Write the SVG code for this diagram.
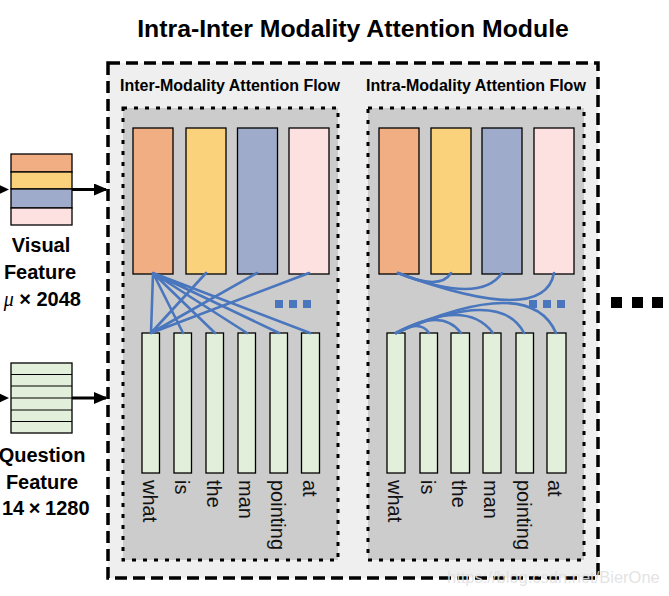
<svg xmlns="http://www.w3.org/2000/svg" width="669" height="596" viewBox="0 0 669 596">
<style>
.title{font-family:"Liberation Sans",Arial,sans-serif;font-weight:bold;font-size:24.8px;fill:#000}
.plabel{font-family:"Liberation Sans",Arial,sans-serif;font-weight:bold;font-size:16px;fill:#000}
.flabel{font-family:"Liberation Sans",Arial,sans-serif;font-weight:bold;font-size:20px;fill:#000}
.word{font-family:"Liberation Sans",Arial,sans-serif;font-size:20px;fill:#111}
.outer{fill:#efefef;stroke:#000;stroke-width:3.5;stroke-dasharray:12 6}
.inner{fill:#cccccc;stroke:#000;stroke-width:3;stroke-dasharray:4 7}
.bar{stroke:#000;stroke-width:1.3}
.c1{fill:#f2ae83}.c2{fill:#fad27c}.c3{fill:#9eabcb}.c4{fill:#fde0e0}.cg{fill:#e2efda}
.att{fill:none;stroke:#4a76be;stroke-width:2.6;stroke-linecap:round}
.dot{fill:#4a76be}
.arrow{stroke:#000;stroke-width:3;fill:none}
</style>
<defs>
<marker id="ah" markerWidth="14" markerHeight="12" refX="12" refY="6" orient="auto" markerUnits="userSpaceOnUse">
<path d="M0,0 L14,6 L0,12 Z" fill="#000"/>
</marker>
</defs>
<rect width="669" height="596" fill="#fff"/>

<text class="title" x="353" y="37" text-anchor="middle">Intra-Inter Modality Attention Module</text>

<g id="module">
<rect class="outer" x="108" y="63" width="490" height="515"/>
</g>

<g id="inter-panel">
<rect class="inner" x="123" y="108" width="215" height="452"/>
<text class="plabel" x="120" y="91">Inter-Modality Attention Flow</text>
</g>
<g id="intra-panel">
<rect class="inner" x="368" y="108" width="216" height="452"/>
<text class="plabel" x="366" y="91">Intra-Modality Attention Flow</text>
</g>

<g id="visual-feature">
<rect class="bar c1" x="11" y="154" width="61" height="18"/>
<rect class="bar c2" x="11" y="172" width="61" height="17"/>
<rect class="bar c3" x="11" y="189" width="61" height="19"/>
<rect class="bar c4" x="11" y="208" width="61" height="17"/>
<text class="flabel" x="41" y="252" text-anchor="middle">Visual</text>
<text class="flabel" x="40" y="279" text-anchor="middle">Feature</text>
<text class="flabel" x="81" y="306" text-anchor="end"><tspan font-family="'Liberation Serif',serif" font-style="italic" font-weight="normal">μ</tspan> × 2048</text>
</g>

<g id="question-feature">
<rect class="bar cg" x="11" y="363" width="61" height="70"/>
<path d="M11,374.5H72M11,386H72M11,398H72M11,410H72M11,421.5H72" stroke="#000" stroke-width="1.2"/>
<text class="flabel" x="42" y="462" text-anchor="middle">Question</text>
<text class="flabel" x="42" y="489" text-anchor="middle">Feature</text>
<text class="flabel" x="2" y="515" font-size="19" word-spacing="-1">14 × 1280</text>
</g>

<g id="inter-visual">
<rect class="bar c1" x="133" y="128" width="40" height="146"/>
<rect class="bar c2" x="186" y="128" width="40" height="146"/>
<rect class="bar c3" x="237.5" y="128" width="40" height="146"/>
<rect class="bar c4" x="289" y="128" width="40" height="146"/>
</g>
<g id="inter-words">
<rect class="bar cg" x="142" y="333" width="17.5" height="140"/>
<rect class="bar cg" x="174" y="333" width="17.5" height="140"/>
<rect class="bar cg" x="206" y="333" width="17.5" height="140"/>
<rect class="bar cg" x="238" y="333" width="17.5" height="140"/>
<rect class="bar cg" x="270" y="333" width="17.5" height="140"/>
<rect class="bar cg" x="301.5" y="333" width="18" height="140"/>
<text class="word" transform="translate(143,480) rotate(90)">what</text>
<text class="word" transform="translate(175,480) rotate(90)">is</text>
<text class="word" transform="translate(207,480) rotate(90)">the</text>
<text class="word" transform="translate(239,480) rotate(90)">man</text>
<text class="word" transform="translate(271,480) rotate(90)">pointing</text>
<text class="word" transform="translate(302.5,480) rotate(90)">at</text>
</g>

<g id="intra-visual">
<rect class="bar c1" x="379" y="128" width="40" height="146"/>
<rect class="bar c2" x="431" y="128" width="40" height="146"/>
<rect class="bar c3" x="482" y="128" width="40" height="146"/>
<rect class="bar c4" x="534" y="128" width="40" height="146"/>
</g>
<g id="intra-words">
<rect class="bar cg" x="387" y="333" width="18" height="140"/>
<rect class="bar cg" x="420" y="333" width="17.5" height="140"/>
<rect class="bar cg" x="451" y="333" width="18.5" height="140"/>
<rect class="bar cg" x="483" y="333" width="18" height="140"/>
<rect class="bar cg" x="516" y="333" width="17.5" height="140"/>
<rect class="bar cg" x="547" y="333" width="19" height="140"/>
<text class="word" transform="translate(388,480) rotate(90)">what</text>
<text class="word" transform="translate(421,480) rotate(90)">is</text>
<text class="word" transform="translate(452,480) rotate(90)">the</text>
<text class="word" transform="translate(484,480) rotate(90)">man</text>
<text class="word" transform="translate(517,480) rotate(90)">pointing</text>
<text class="word" transform="translate(548,480) rotate(90)">at</text>
</g>

<g id="connectors">
<line class="arrow" x1="72" y1="189.5" x2="106" y2="189.5" marker-end="url(#ah)"/>
<line class="arrow" x1="72" y1="398" x2="106" y2="398" marker-end="url(#ah)"/>
<polygon points="-4,183.5 9,189.5 -4,195.5" fill="#000"/>
<polygon points="-4,392 9,398 -4,404" fill="#000"/>

<path class="att" d="M153,273L151,333M153,273L183,333M153,273L215,333M153,273L247,333M153,273L279,333M153,273L310,333M206,273L151,333M257,273L151,333M309,273L151,333"/>

<path class="att" d="M398,273Q440,291 451,273"/>
<path class="att" d="M398,273Q480,305 502,273"/>
<path class="att" d="M398,273Q544,327 554,273"/>

<path class="att" d="M396,333Q420,319 429,333"/>
<path class="att" d="M396,333Q442,307 461,333"/>
<path class="att" d="M396,333Q466,297 493,333"/>
<path class="att" d="M396,333Q500,287 524,333"/>
<path class="att" d="M396,333Q530,273 556,333"/>
</g>

<g id="ellipses">
<rect class="dot" x="275" y="300" width="8" height="8"/>
<rect class="dot" x="289" y="300" width="8" height="8"/>
<rect class="dot" x="303" y="300" width="8" height="8"/>
<rect class="dot" x="529" y="300" width="8" height="8"/>
<rect class="dot" x="543" y="300" width="8" height="8"/>
<rect class="dot" x="557" y="300" width="8" height="8"/>
<rect x="611" y="297" width="11" height="11" fill="#000"/>
<rect x="632" y="297" width="11" height="11" fill="#000"/>
<rect x="652" y="297" width="11" height="11" fill="#000"/>
</g>

<text x="447" y="583" font-family="'Liberation Sans',Arial,sans-serif" font-size="16.5" fill="#e0e0e0" fill-opacity="0.9">https://blog.csdn.net/BierOne</text>
</svg>
